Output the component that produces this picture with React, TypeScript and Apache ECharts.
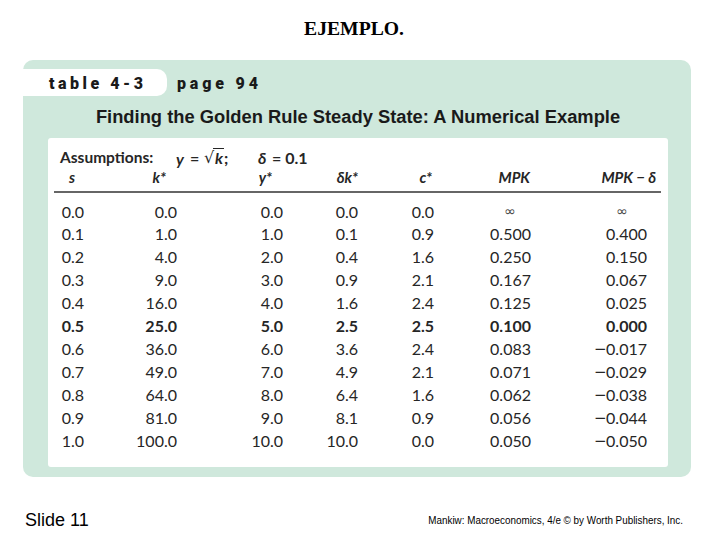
import React, { useEffect, useRef } from "react";
import * as echarts from "echarts";

// ---- data ----
const sValues = [0.0, 0.1, 0.2, 0.3, 0.4, 0.5, 0.6, 0.7, 0.8, 0.9, 1.0];
const kStar = [0, 1, 4, 9, 16, 25, 36, 49, 64, 81, 100];
const yStar = [0, 1, 2, 3, 4, 5, 6, 7, 8, 9, 10];
const deltaK = [0.0, 0.1, 0.4, 0.9, 1.6, 2.5, 3.6, 4.9, 6.4, 8.1, 10.0];
const cStar = [0.0, 0.9, 1.6, 2.1, 2.4, 2.5, 2.4, 2.1, 1.6, 0.9, 0.0];
const mpk = [Infinity, 0.5, 0.25, 0.167, 0.125, 0.1, 0.083, 0.071, 0.062, 0.056, 0.05];
const mpkMinusDelta = [Infinity, 0.4, 0.15, 0.067, 0.025, 0.0, -0.017, -0.029, -0.038, -0.044, -0.05];
const columnHeaders = ["s", "k*", "y*", "δk*", "c*", "MPK", "MPK − δ"];
const columnDecimals = [1, 1, 1, 1, 1, 3, 3];
const goldenRuleRow = 5;

const pageTitle = "EJEMPLO.";
const tableLabel = "table 4-3";
const pageLabel = "page 94";
const tableTitle = "Finding the Golden Rule Steady State: A Numerical Example";
const slideLabel = "Slide 11";
const credit = "Mankiw: Macroeconomics, 4/e © by Worth Publishers, Inc.";

// ---- layout ----
const colRight = [84, 177, 283, 358, 434, 531, 647];
const colInfCenter = [0, 0, 0, 0, 0, 510, 622];
const headerRight = [75, 166, 272, 358, 432, 530, 656];
const rowTop = 211;
const rowStep = 22.9;

const GREEN = "#cfe8dc";
const INK = "#262626";
const NUM_SIZE = 16;

let ctx: CanvasRenderingContext2D | null = null;
function measure(text: string, font: string) {
  if (!ctx) ctx = document.createElement("canvas").getContext("2d");
  if (!ctx) return text.length * 8;
  ctx.font = font;
  return ctx.measureText(text).width;
}

function fittedText(text: string, cx: number, y: number, width: number, weight: string, size: number, family: string, align: string, fill: string) {
  const font = `${weight} ${size}px ${family}`;
  const w = measure(text, font);
  const sx = width / w;
  return {
    type: "text",
    x: cx,
    y,
    scaleX: sx,
    style: { text, x: 0, y: 0, fontSize: size, fontWeight: weight, fontFamily: family, fill, align, verticalAlign: "middle" },
  };
}

function spacedText(text: string, x0: number, x1: number, y: number, weight: string, size: number, family: string, fill: string) {
  const font = `${weight} ${size}px ${family}`;
  const chars = text.split("");
  const widths = chars.map((c) => measure(c, font));
  const total = widths.reduce((a, b) => a + b, 0);
  const gap = (x1 - x0 - total) / (chars.length - 1);
  const out: any[] = [];
  let x = x0;
  chars.forEach((c, i) => {
    if (c !== " ") {
      out.push({
        type: "text",
        x,
        y,
        style: { text: c, fontSize: size, fontWeight: weight, fontFamily: family, fill, align: "left", verticalAlign: "middle" },
      });
    }
    x += widths[i] + gap;
  });
  return out;
}

function txt(text: string, x: number, y: number, opts: any = {}) {
  return {
    type: "text",
    x,
    y,
    style: {
      text,
      fontSize: opts.size ?? 16,
      fontWeight: opts.weight ?? "normal",
      fontStyle: opts.style ?? "normal",
      fontFamily: opts.family ?? "Lato",
      fill: opts.fill ?? INK,
      align: opts.align ?? "left",
      verticalAlign: "middle",
    },
  };
}

export default function App() {
  const ref = useRef<HTMLDivElement>(null);
  useEffect(() => {
    if (!ref.current) return;
    const chart = echarts.init(ref.current, undefined, { renderer: "svg" });
    const g: any[] = [];

    // page title
    g.push(fittedText(pageTitle, 354, 29, 100, "bold", 18, "Liberation Serif", "center", "#000"));

    // green panel, tab, white box
    g.push({ type: "rect", shape: { x: 23, y: 60, width: 668, height: 417, r: 10 }, style: { fill: GREEN } });
    g.push({ type: "rect", shape: { x: 23, y: 69, width: 144, height: 27, r: [0, 10, 10, 0] }, style: { fill: "#ffffff" } });
    g.push({ type: "rect", shape: { x: 48, y: 138, width: 620, height: 329, r: 3 }, style: { fill: "#ffffff" } });

    g.push(...spacedText(tableLabel, 49, 143, 83, "900", 16, "Roboto", "#1a1a1a"));
    g.push(...spacedText(pageLabel, 177, 258, 83, "900", 16, "Roboto", "#1a1a1a"));

    g.push(fittedText(tableTitle, 358, 116, 526, "bold", 19, "Liberation Sans", "center", "#1a1a1a"));

    // assumptions line
    g.push(txt("Assumptions:", 60, 157, { weight: "bold", size: 15.5 }));
    g.push(txt("y", 176, 158, { weight: "bold", style: "italic", size: 16 }));
    g.push(txt("=", 190, 157, { weight: "bold", size: 16 }));
    g.push(txt("√", 204, 157, { weight: "normal", size: 16, family: "DejaVu Sans" }));
    g.push({ type: "line", shape: { x1: 213, y1: 148.5, x2: 224, y2: 148.5 }, style: { stroke: INK, lineWidth: 1 } });
    g.push(txt("k", 215, 157, { weight: "bold", style: "italic", size: 16 }));
    g.push(txt(";", 224, 157, { weight: "bold", size: 16 }));
    g.push(txt("δ", 258, 157, { weight: "bold", style: "italic", size: 16 }));
    g.push(txt("= 0.1", 272, 157, { weight: "bold", size: 16 }));

    // column headers
    columnHeaders.forEach((h, i) => {
      g.push(txt(h, headerRight[i], 177, { weight: "bold", style: "italic", size: 15, align: "right" }));
    });
    g.push({ type: "line", shape: { x1: 54, y1: 192, x2: 661, y2: 192 }, style: { stroke: "#333", lineWidth: 1.6 } });

    // rows
    const columns = [sValues, kStar, yStar, deltaK, cStar, mpk, mpkMinusDelta];
    sValues.forEach((_, r) => {
      const y = rowTop + r * rowStep;
      const bold = r === goldenRuleRow;
      const weight = bold ? "bold" : "normal";
      columns.forEach((col, c) => {
        const v = col[r];
        if (!isFinite(v)) {
          g.push(txt("∞", colInfCenter[c], y, { size: 14, align: "center", fill: "#444", family: "DejaVu Sans" }));
          return;
        }
        const body = Math.abs(v).toFixed(columnDecimals[c]);
        g.push(txt(body, colRight[c], y, { size: NUM_SIZE, align: "right", weight }));
        if (v < 0) {
          const w = measure(body, `${weight} ${NUM_SIZE}px Lato`);
          g.push(txt("−", colRight[c] - w + 0.5, y + 1, { size: 15, align: "right", family: "DejaVu Sans" }));
        }
      });
    });

    // footer
    g.push(txt(slideLabel, 25, 520, { size: 18, family: "Liberation Sans", fill: "#000" }));
    g.push(fittedText(credit, 683, 520, 255, "normal", 10, "Liberation Sans", "right", "#000"));

    chart.setOption({ animation: false, graphic: g });
    return () => chart.dispose();
  }, []);
  return <div ref={ref} style={{ position: "fixed", left: 0, top: 0, width: 720, height: 540, background: "#fff" }} />;
}
